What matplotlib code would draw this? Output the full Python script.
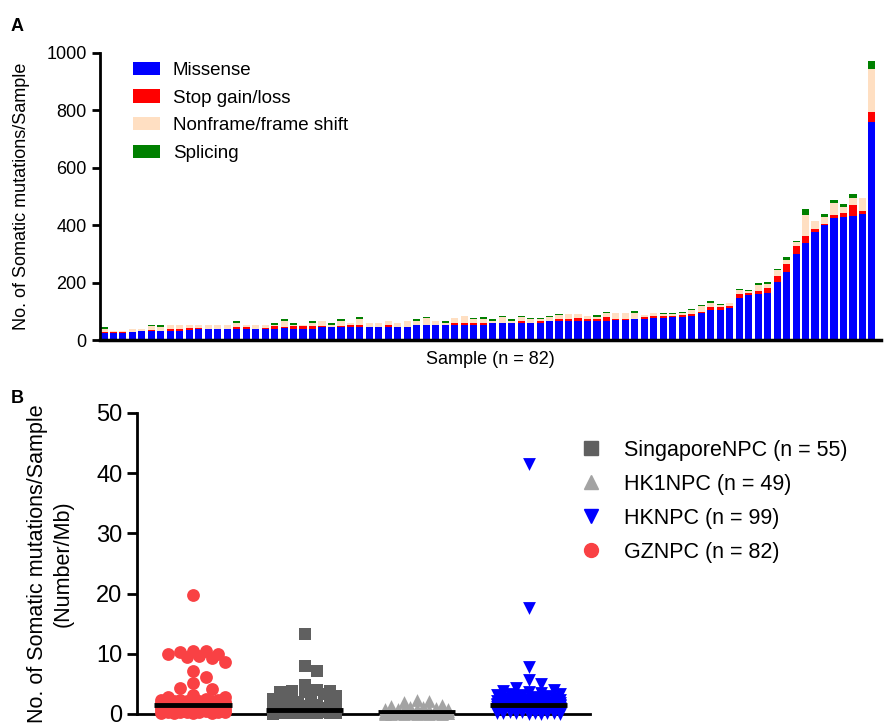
import numpy as np
import matplotlib
matplotlib.use('Agg')
import matplotlib.pyplot as plt
from matplotlib.patches import Patch
from matplotlib.lines import Line2D

plt.rcParams['font.family'] = ['Liberation Sans', 'DejaVu Sans']

# ---- Panel A data: mutation counts per sample (82 samples, sorted) ----
missense = [24, 24, 24, 27, 30, 31, 33, 33, 33, 35, 38, 37, 37, 40, 40, 40, 40, 40,
            40, 42, 40, 40, 40, 45, 45, 45, 45, 45, 47, 47, 47, 47, 47, 52, 52, 52, 52,
            54, 54, 54, 54, 58, 58, 58, 58, 61, 61, 65, 65, 65, 65, 65, 65, 68,
            70, 71, 73, 73, 77, 77, 80, 80, 84, 94, 104, 104, 112, 146, 156, 161, 163,
            201, 237, 300, 338, 378, 399, 425, 427, 431, 438, 758]
stop_gain_loss = [4, 4, 5, 0, 0, 4, 0, 5, 5, 7, 3, 0, 0, 0, 5, 4, 0, 3,
                  8, 2, 8, 8, 8, 4, 0, 4, 6, 7, 0, 0, 5, 0, 0, 2, 2, 2, 2,
                  7, 7, 4, 7, 3, 3, 3, 10, 0, 4, 3, 7, 7, 10, 7, 7, 11,
                  3, 2, 0, 8, 7, 7, 5, 8, 7, 4, 10, 10, 7, 14, 7, 9, 17,
                  21, 27, 26, 23, 7, 5, 12, 14, 41, 13, 35]
frame_shift = [12, 5, 1, 10, 10, 15, 14, 13, 13, 9, 13, 14, 14, 11, 16, 7, 11, 8,
               6, 24, 6, 6, 10, 19, 6, 16, 7, 20, 14, 14, 13, 11, 18, 14, 21, 11, 6,
               14, 21, 14, 11, 7, 18, 7, 11, 11, 7, 11, 14, 17, 17, 10, 7, 14,
               21, 21, 20, 6, 9, 5, 5, 6, 13, 20, 14, 7, 9, 14, 7, 21, 14,
               21, 14, 14, 76, 28, 23, 42, 24, 24, 42, 151]
splicing = [4, 0, 0, 0, 0, 4, 4, 0, 3, 3, 0, 0, 3, 0, 4, 3, 0, 3,
            4, 4, 4, 0, 7, 0, 7, 7, 0, 7, 0, 0, 3, 0, 0, 4, 4, 3, 7,
            0, 0, 3, 7, 4, 3, 4, 3, 3, 3, 3, 3, 0, 0, 0, 7, 3,
            0, 0, 8, 0, 0, 4, 4, 3, 4, 3, 7, 4, 0, 3, 3, 7, 7,
            3, 10, 4, 18, 3, 12, 10, 10, 11, 3, 28]
mut_labels = ['Missense', 'Stop gain/loss', 'Nonframe/frame shift', 'Splicing']
mut_colors = ['#0000ff', '#ff0000', '#ffdfc2', '#008000']

# ---- Panel B data: mutation rate per cohort (Number/Mb) ----
cohorts = ['GZNPC (n = 82)', 'SingaporeNPC (n = 55)', 'HK1NPC (n = 49)', 'HKNPC (n = 99)']
gz = [19.7, 10.5, 10.4, 10.3, 10.0, 9.9, 9.6, 9.5, 9.3, 8.7, 7.2, 6.1, 5.2, 4.3, 4.2, 3.1, 2.9, 2.8,
      0.1, 0.15, 0.2, 0.2, 0.25, 0.3, 0.3, 0.35, 0.4, 0.4, 0.45, 0.5, 0.5, 0.55, 0.6,
      0.6, 0.65, 0.7, 0.7, 0.75, 0.8, 0.8, 0.85, 0.9, 0.9, 0.95, 1.0, 1.0, 1.05, 1.1,
      1.1, 1.15, 1.2, 1.2, 1.25, 1.3, 1.3, 1.35, 1.4, 1.45, 1.5,
      1.6, 1.65, 1.7, 1.7, 1.75, 1.8, 1.8, 1.85, 1.9, 1.9, 1.95, 2.0, 2.0, 2.05, 2.1,
      2.1, 2.15, 2.2, 2.2, 2.3, 2.35, 2.4, 2.5]
sg = [13.3, 8.0, 7.2, 4.8, 4.0, 3.9, 3.8, 3.7, 3.6, 3.3, 3.0, 2.8, 2.5, 2.2, 2.0, 1.8,
      0.05, 0.08, 0.1, 0.12, 0.15, 0.18, 0.2, 0.22, 0.25, 0.28, 0.3, 0.32, 0.35, 0.38,
      0.4, 0.42, 0.45, 0.48, 0.5, 0.52, 0.54, 0.56, 0.58, 0.6, 0.61, 0.62, 0.64,
      0.66, 0.7, 0.75, 0.8, 0.9, 1.0, 1.1, 1.2, 1.3, 1.4, 1.5, 1.6]
hk1 = [2.3, 2.1, 2.0, 1.5, 1.3, 1.2, 1.1, 1.0, 0.9, 0.85, 0.8, 0.75, 0.7, 0.65, 0.6,
       0.55, 0.5, 0.48, 0.45, 0.42, 0.4, 0.37, 0.35, 0.32, 0.3,
       0.02, 0.03, 0.04, 0.05, 0.06, 0.07, 0.08, 0.09, 0.1, 0.11, 0.12, 0.13, 0.14,
       0.15, 0.16, 0.17, 0.18, 0.2, 0.21, 0.22, 0.24, 0.25, 0.27, 0.28]
hk = [41.5, 17.6, 7.8, 5.6, 5.0, 4.3, 4.0, 3.8, 3.6, 3.5, 3.4, 3.3, 3.2, 3.1, 3.0,
      2.9, 2.8, 2.7, 2.6, 2.5, 2.4, 2.3, 2.2, 2.1, 2.0, 2.0, 1.95, 1.9, 1.9, 1.85,
      1.8, 1.8, 1.75, 1.7, 1.7, 1.68, 1.65, 1.62, 1.6, 1.6, 1.58, 1.56, 1.55, 1.54,
      1.53, 1.52, 1.52, 1.51, 1.51, 1.5,
      0.02, 0.04, 0.06, 0.08, 0.1, 0.13, 0.16, 0.19, 0.22, 0.25, 0.28, 0.31, 0.34,
      0.37, 0.4, 0.43, 0.46, 0.49, 0.52, 0.55, 0.58, 0.61, 0.64, 0.67, 0.7, 0.73,
      0.76, 0.79, 0.82, 0.85, 0.88, 0.91, 0.94, 0.97, 1.0, 1.03, 1.06, 1.09, 1.12,
      1.15, 1.18, 1.21, 1.24, 1.27, 1.3, 1.33, 1.36, 1.4, 1.45]
cohort_values = [gz, sg, hk1, hk]
cohort_markers = ['o', 's', '^', 'v']
cohort_colors = ['#f94144', '#606060', '#a3a3a3', '#0000ff']


def column_scatter(vals, px_per_y, px_per_x, diam, max_half):
    """Spread points horizontally (GraphPad-style column scatter)."""
    vals = np.asarray(vals, dtype=float)
    xs = np.zeros(len(vals))
    placed = []
    step = diam * 0.55
    cands = [0.0]
    k = 1
    while k * step <= max_half:
        cands += [k * step, -k * step]
        k += 1
    for i in np.argsort(vals)[::-1]:
        y = vals[i] * px_per_y
        best, best_d = 0.0, -1
        for c in cands:
            d = min([np.hypot(c - px, y - py) for px, py in placed] or [1e9])
            if d >= diam:
                best = c
                break
            if d > best_d:
                best, best_d = c, d
        placed.append((best, y))
        xs[i] = best / px_per_x
    return xs


fig = plt.figure(figsize=(8.87, 7.25), dpi=100)

# ---------------- Panel A ----------------
axA = fig.add_axes([0.1127, 0.531, 0.881, 0.396])
x = np.arange(len(missense))
bottom = np.zeros(len(missense))
for vals, lab, col in zip([missense, stop_gain_loss, frame_shift, splicing], mut_labels, mut_colors):
    axA.bar(x, vals, width=0.75, bottom=bottom, color=col, label=lab, linewidth=0)
    bottom += np.array(vals)

axA.set_xlim(-0.42, 82.0)
axA.set_ylim(0, 1000)
axA.set_yticks(range(0, 1001, 200))
axA.set_xticks([])
axA.spines['top'].set_visible(False)
axA.spines['right'].set_visible(False)
axA.spines['left'].set_linewidth(2)
axA.spines['bottom'].set_linewidth(2.5)
axA.tick_params(axis='y', labelsize=13, width=2, length=6)
axA.set_ylabel('No. of Somatic mutations/Sample', fontsize=13, labelpad=12)
axA.set_xlabel('Sample (n = 82)', fontsize=13, labelpad=8)
handles = [Patch(facecolor=c, edgecolor='none') for c in mut_colors]
axA.legend(handles, mut_labels, loc='upper left', bbox_to_anchor=(0.033, 0.995),
           frameon=False, fontsize=13.5, handlelength=1.45, handleheight=0.72,
           handletextpad=0.65, labelspacing=0.55, borderaxespad=0)

# ---------------- Panel B ----------------
axB = fig.add_axes([0.1545, 0.0152, 0.5107, 0.4152])
axB.set_xlim(0.5, 4.55)
axB.set_ylim(0, 50)
px_per_y = 301.0 / 50
px_per_x = 112.0
for i, (vals, m, col) in enumerate(zip(cohort_values, cohort_markers, cohort_colors)):
    pos = i + 1
    offs = column_scatter(vals, px_per_y, px_per_x, diam=11.5, max_half=36)
    axB.scatter(pos + offs, vals, marker=m, s=85, color=col, linewidths=0,
                clip_on=False, zorder=3)
    axB.hlines(np.median(vals), pos - 0.345, pos + 0.345, color='black',
               linewidth=3.5, zorder=4)

axB.set_yticks(range(0, 51, 10))
axB.set_xticks([])
axB.spines['top'].set_visible(False)
axB.spines['right'].set_visible(False)
axB.spines['left'].set_linewidth(2)
axB.spines['bottom'].set_linewidth(2)
axB.tick_params(axis='y', labelsize=17, width=2, length=7)
axB.set_ylabel('No. of Somatic mutations/Sample\n(Number/Mb)', fontsize=15.5,
               labelpad=16, linespacing=1.3)

# legend in the order shown on the chart
order = [1, 2, 3, 0]
lh = [Line2D([], [], marker=cohort_markers[j], color=cohort_colors[j], linestyle='none',
             markersize=10) for j in order]
fig.legend(lh, [cohorts[j] for j in order], loc='upper left',
           bbox_to_anchor=(0.645, 0.405), frameon=False, fontsize=15.5,
           handlelength=1.0, handletextpad=1.0, labelspacing=0.6, borderaxespad=0)

fig.text(0.012, 0.975, 'A', fontsize=13, fontweight='bold', va='top')
fig.text(0.012, 0.462, 'B', fontsize=13, fontweight='bold', va='top')

fig.savefig('out.png', dpi=100)
